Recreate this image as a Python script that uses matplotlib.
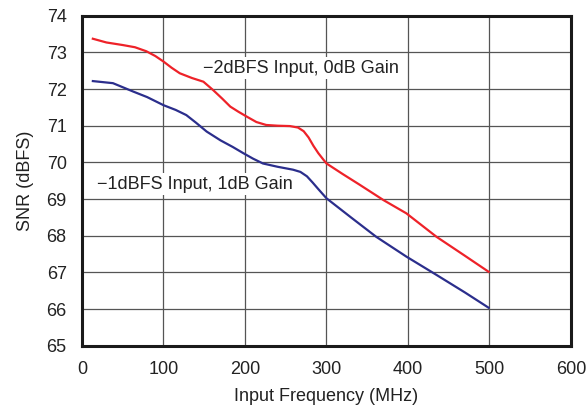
import matplotlib
matplotlib.use("Agg")
import matplotlib.pyplot as plt

plt.rcParams['font.family'] = ['Liberation Sans', 'DejaVu Sans']

red_x = [12, 30, 50, 65, 79, 90, 100, 110, 120, 135, 149, 161, 172, 182, 192, 202, 214, 226, 240, 255, 265, 272, 278, 284, 290, 296, 300, 320, 340, 370, 398, 435, 470, 500]
red_y = [73.38, 73.27, 73.20, 73.14, 73.03, 72.90, 72.75, 72.58, 72.43, 72.30, 72.20, 71.97, 71.74, 71.52, 71.38, 71.25, 71.10, 71.02, 71.00, 70.99, 70.95, 70.85, 70.68, 70.45, 70.25, 70.08, 69.97, 69.68, 69.40, 68.97, 68.61, 67.97, 67.45, 67.0]

blue_x = [12, 38, 63, 80, 100, 115, 128, 140, 153, 170, 185, 198, 210, 222, 240, 259, 268, 276, 283, 290, 300, 330, 361, 398, 435, 470, 500]
blue_y = [72.22, 72.16, 71.93, 71.78, 71.56, 71.43, 71.29, 71.08, 70.84, 70.60, 70.42, 70.25, 70.10, 69.97, 69.88, 69.80, 69.74, 69.62, 69.45, 69.27, 69.02, 68.50, 67.97, 67.43, 66.93, 66.45, 66.02]

red_label = "\u22122dBFS Input, 0dB Gain"
blue_label = "\u22121dBFS Input, 1dB Gain"
x_ticks = [0, 100, 200, 300, 400, 500, 600]
y_ticks = [65, 66, 67, 68, 69, 70, 71, 72, 73, 74]

FS = 13

fig = plt.figure(figsize=(5.86, 4.08), dpi=100)
ax = fig.add_axes([0.1399, 0.1527, 0.8345, 0.8088])

ax.plot(red_x, red_y, color='#ee2229', lw=1.6, zorder=3, solid_capstyle='butt')
ax.plot(blue_x, blue_y, color='#2b2e8c', lw=1.6, zorder=3, solid_capstyle='butt')

ax.set_xlim(0, 600)
ax.set_ylim(65, 74)
ax.set_xticks(x_ticks)
ax.set_yticks(y_ticks)
ax.grid(True, color='#555555', lw=0.9)
ax.set_axisbelow(True)
ax.tick_params(length=0, labelsize=FS, colors='#222222')
ax.tick_params(axis='x', pad=11)
ax.tick_params(axis='y', pad=11)
for s in ax.spines.values():
    s.set_linewidth(2.2)
    s.set_color('#1a1a1a')

ax.text(148.5, 72.57, red_label, fontsize=FS, color='#222222', va='center', ha='left',
        bbox=dict(facecolor='white', edgecolor='none', pad=1.5), zorder=4)
ax.text(18.8, 69.41, blue_label, fontsize=FS, color='#222222', va='center', ha='left',
        bbox=dict(facecolor='white', edgecolor='none', pad=1.5), zorder=4)

ax.set_xlabel("Input Frequency (MHz)", fontsize=FS, color='#222222', labelpad=7)
ax.set_ylabel("SNR (dBFS)", fontsize=FS, color='#222222', labelpad=9)

fig.savefig("out.png", dpi=100)
